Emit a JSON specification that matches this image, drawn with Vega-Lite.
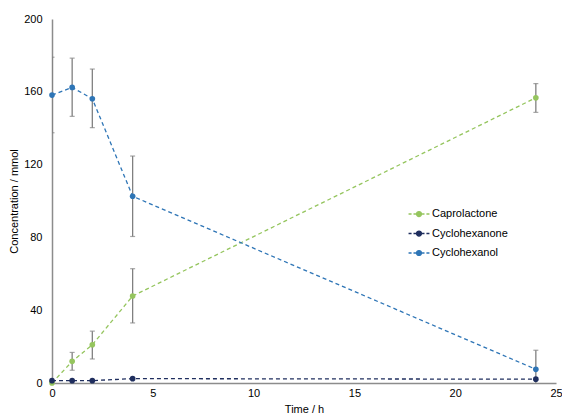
{
  "$schema": "https://vega.github.io/schema/vega-lite/v6.json",
  "width": 504,
  "height": 364,
  "autosize": "none",
  "padding": {"left": 52, "top": 19, "right": 6, "bottom": 35},
  "background": "white",
  "config": {
    "view": {"stroke": null},
    "font": "Liberation Sans",
    "axis": {
      "grid": false,
      "ticks": false,
      "domainColor": "#8c8c8c",
      "domainWidth": 1.5,
      "labelFontSize": 11,
      "labelColor": "#000000",
      "titleFontSize": 11,
      "titleFontWeight": "normal",
      "titleColor": "#000000"
    },
    "legend": {
      "orient": "none",
      "legendX": 360.5,
      "legendY": 188.5,
      "symbolType": "M-1.9,0H-1.35M-1.0,0H-0.55M0.55,0H1.0M1.35,0H1.9M0.45,0A0.45,0.45 0 1,1 -0.45,0A0.45,0.45 0 1,1 0.45,0Z",
      "symbolSize": 121,
      "symbolStrokeWidth": 1.3,
      "labelOffset": 6.5,
      "rowPadding": 7.5,
      "labelFontSize": 11,
      "labelColor": "#000000"
    }
  },
  "data": {
    "values": [
      {"series": "Caprolactone", "t": 0, "v": 0},
      {"series": "Caprolactone", "t": 1, "v": 11.9, "lo": 7, "hi": 16.8},
      {"series": "Caprolactone", "t": 2, "v": 21, "lo": 13.2, "hi": 28.5},
      {"series": "Caprolactone", "t": 4, "v": 47.8, "lo": 33, "hi": 62.8},
      {"series": "Caprolactone", "t": 24, "v": 156.7, "lo": 148.7, "hi": 164.5},
      {"series": "Cyclohexanone", "t": 0, "v": 1.3},
      {"series": "Cyclohexanone", "t": 1, "v": 1.3},
      {"series": "Cyclohexanone", "t": 2, "v": 1.3},
      {"series": "Cyclohexanone", "t": 4, "v": 2.4},
      {"series": "Cyclohexanone", "t": 24, "v": 2.1},
      {"series": "Cyclohexanol", "t": 0, "v": 158.2, "lo": 137.5, "hi": 179},
      {"series": "Cyclohexanol", "t": 1, "v": 162.4, "lo": 146.5, "hi": 178.5},
      {"series": "Cyclohexanol", "t": 2, "v": 156.2, "lo": 140.3, "hi": 172.5},
      {"series": "Cyclohexanol", "t": 4, "v": 102.6, "lo": 80.5, "hi": 124.7},
      {"series": "Cyclohexanol", "t": 24, "v": 7.5, "lo": -3, "hi": 18}
    ]
  },
  "encoding": {
    "x": {
      "field": "t",
      "type": "quantitative",
      "title": "Time / h",
      "scale": {"domain": [0, 25], "nice": false},
      "axis": {"values": [0, 5, 10, 15, 20, 25], "labelPadding": 4, "titlePadding": 5, "labelFlush": false}
    }
  },
  "layer": [
    {
      "transform": [{"filter": "isValid(datum.lo)"}],
      "mark": {"type": "rule", "color": "#808080", "strokeWidth": 1.3, "clip": true},
      "encoding": {
        "y": {"field": "lo", "type": "quantitative", "title": "Concentration / mmol", "scale": {"domain": [0, 200], "nice": false}},
        "y2": {"field": "hi"}
      }
    },
    {
      "transform": [{"filter": "isValid(datum.lo)"}],
      "mark": {"type": "tick", "orient": "horizontal", "color": "#808080", "size": 5, "thickness": 1.2, "clip": true},
      "encoding": {
        "y": {"field": "lo", "type": "quantitative", "title": "Concentration / mmol"}
      }
    },
    {
      "transform": [{"filter": "isValid(datum.hi)"}],
      "mark": {"type": "tick", "orient": "horizontal", "color": "#808080", "size": 5, "thickness": 1.2, "clip": true},
      "encoding": {
        "y": {"field": "hi", "type": "quantitative", "title": "Concentration / mmol"}
      }
    },
    {
      "mark": {"type": "line", "strokeDash": [4, 3], "strokeWidth": 1.3},
      "encoding": {
        "y": {
          "field": "v",
          "type": "quantitative",
          "title": "Concentration / mmol",
          "axis": {"values": [0, 40, 80, 120, 160, 200], "labelPadding": 10, "titlePadding": 4}
        },
        "color": {
          "field": "series",
          "type": "nominal",
          "title": null,
          "scale": {"domain": ["Caprolactone", "Cyclohexanone", "Cyclohexanol"], "range": ["#95c55e", "#1f2e5e", "#2e75b6"]},
          "legend": {
            "title": null,
            "encode": {
              "symbols": {
                "update": {
                  "stroke": {"scale": "color", "field": "value"},
                  "fill": {"scale": "color", "field": "value"},
                  "strokeDash": {"value": []},
                  "opacity": {"value": 1}
                }
              }
            }
          }
        }
      }
    },
    {
      "mark": {"type": "point", "filled": true, "size": 32, "opacity": 1},
      "encoding": {
        "y": {"field": "v", "type": "quantitative", "title": "Concentration / mmol"},
        "color": {"field": "series", "type": "nominal", "title": null}
      }
    }
  ]
}
